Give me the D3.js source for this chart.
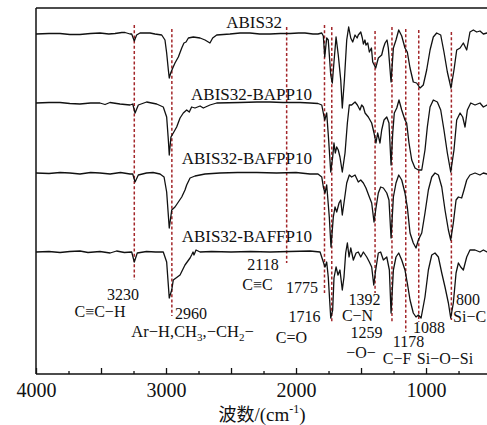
<!DOCTYPE html>
<html><head><meta charset="utf-8">
<script src="https://cdn.jsdelivr.net/npm/d3@7"></script>
<style>
body{margin:0;background:#fff;}
svg{display:block;}
text{font-family:"Liberation Serif","Times New Roman","Noto Sans CJK SC",serif;fill:#111;}
</style></head>
<body>
<script>
// ---- data (wavenumber cm^-1, relative transmittance a.u.) ----
const seriesNames = ["ABIS32","ABIS32-BAPP10","ABIS32-BAFPP10","ABIS32-BAFFP10"];
const seriesOffsets = [340, 271, 201, 122];

const abis32 = [[4000,0],[3900,0.5],[3815,0.5],[3740,-0.5],[3662,-0.5],[3580,0.5],[3508,1],[3440,0],[3392,0.5],[3340,1.5],[3315,1.5],[3277,0],[3264,0],[3244,-7],[3226,-1],[3200,1],[3150,1],[3123,1],[3085,0],[3033,-1],[3008,-6],[2995,-19],[2982,-36],[2975,-44],[2964,-39],[2948,-34],[2931,-29],[2905,-23],[2879,-14],[2862,-9],[2846,-8],[2828,-4],[2790,-3],[2738,-4],[2700,-6],[2662,-9],[2641,-4],[2610,-1],[2508,0],[2430,1],[2354,1],[2280,0],[2200,0],[2120,0.5],[2046,0.5],[1980,1],[1931,1],[1870,0],[1831,0],
[1802,1],[1790,-2],[1779,-23],[1764,-4],[1752,-6],[1733,-41],[1721,-49],[1708,-28],[1692,-3],[1675,-21],[1656,-46],[1644,-74],[1628,-46],[1610,-6],[1595,7],[1579,-4],[1564,-8],[1546,-1],[1530,-4],[1521,-1],[1502,2],[1490,-4],[1482,-10],[1470,-6],[1462,-11],[1448,-9],[1436,-18],[1420,-14],[1410,-28],[1387,-34],[1367,-24],[1341,-21],[1328,-14],[1315,-9],[1300,-6],[1290,-14],[1269,-48],[1251,-14],[1231,-6],[1210,4],[1187,-2],[1162,-14],[1144,-18],[1123,-34],[1098,-48],[1072,-49],[1046,-54],[1021,-51],[995,-36],[969,-16],[944,-3],[918,1],[887,-1],[862,-18],[836,-38],[808,-54],[785,-36],[764,-16],[738,-14],[713,-9],[687,-16],[662,2],[636,4],[610,2],[585,3],[559,0],[531,1],[500,1]];

const abis32Bapp10 = [[4000,0],[3900,0.5],[3815,0.5],[3740,-0.5],[3662,-1],[3580,0],[3508,0],[3469,-1.5],[3431,0.5],[3354,-1],[3277,-2],[3256,-1],[3238,-10],[3213,-2],[3149,1],[3072,-1],[3021,-4],[2995,-14],[2982,-37],[2975,-52],[2962,-34],[2944,-30],[2918,-24],[2892,-15],[2867,-10],[2841,-7],[2821,-9],[2803,-4],[2777,-5],[2738,-3],[2713,-5],[2662,-2],[2610,0],[2431,0.5],[2300,1],[2200,1],[2100,0.5],[1969,0.5],[1892,0],[1831,-0.5],
[1802,-2],[1790,-10],[1779,-17],[1764,-10],[1749,-37],[1733,-69],[1718,-54],[1708,-40],[1698,-50],[1687,-44],[1675,-47],[1662,-54],[1644,-69],[1623,-50],[1605,-20],[1590,-2],[1572,-2],[1546,1],[1528,-2],[1508,-7],[1495,-2],[1482,-4],[1469,-10],[1444,-14],[1418,-20],[1400,-30],[1385,-40],[1372,-30],[1354,-40],[1341,-27],[1323,-17],[1302,-14],[1285,-20],[1269,-62],[1256,-30],[1244,-10],[1225,-5],[1208,3],[1187,-7],[1162,-17],[1149,-20],[1131,-40],[1110,-57],[1085,-65],[1059,-67],[1033,-67],[1008,-47],[990,-24],[969,-4],[944,3],[913,1],[887,-7],[862,-27],[836,-50],[810,-69],[785,-47],[764,-17],[738,-10],[718,-14],[700,-24],[682,-7],[656,0],[623,-2],[585,0],[559,-4],[531,-2],[500,-2]];

const abis32Bafpp10 = [[4000,0],[3900,-0.5],[3815,0.5],[3740,0],[3662,-1],[3580,0.5],[3508,0],[3430,-1],[3350,0.5],[3277,-1],[3256,-1],[3238,-9],[3213,-2],[3150,0],[3100,0.5],[3046,-1],[3015,-4],[2995,-19],[2975,-55],[2956,-37],[2931,-34],[2905,-29],[2879,-24],[2854,-17],[2841,-12],[2815,-5],[2777,-3],[2700,-1],[2585,0],[2450,0.5],[2300,0.5],[2150,0],[2000,0.5],[1892,-1],[1831,-1],
[1802,-4],[1790,-14],[1777,-20],[1764,-12],[1744,-44],[1731,-74],[1713,-44],[1700,-34],[1687,-39],[1669,-30],[1656,-27],[1644,-42],[1628,-27],[1610,-10],[1590,-2],[1572,-4],[1546,-2],[1521,-9],[1502,-7],[1482,-10],[1462,-15],[1436,-24],[1418,-30],[1400,-49],[1385,-35],[1367,-20],[1349,-14],[1328,-15],[1302,-20],[1285,-27],[1269,-65],[1251,-24],[1231,-10],[1210,-2],[1187,-7],[1162,-20],[1144,-34],[1123,-60],[1098,-70],[1077,-75],[1059,-67],[1033,-60],[1008,-40],[982,-17],[956,-4],[931,0],[905,-2],[879,-14],[854,-37],[828,-57],[810,-67],[790,-50],[769,-27],[751,-24],[726,-25],[708,-17],[687,-7],[662,-2],[623,0],[585,-2],[559,0],[531,-1],[500,-1]];

const abis32Baffp10 = [[4000,0],[3900,0.5],[3815,-0.5],[3740,0.5],[3662,1],[3600,-0.5],[3508,0.5],[3430,-1],[3380,1],[3320,-0.5],[3264,0],[3244,-10],[3221,-1],[3150,0.5],[3080,0],[3021,0],[2995,-10],[2975,-46],[2956,-38],[2944,-28],[2892,-23],[2854,-13],[2815,-6],[2803,-3],[2792,0],[2785,-3],[2769,2],[2738,0],[2650,0.5],[2500,0],[2350,0.5],[2200,0],[2050,0.5],[1892,1],[1815,0],
[1795,-8],[1777,-15],[1764,-10],[1752,-25],[1733,-66],[1718,-58],[1708,-26],[1692,-15],[1677,-23],[1662,-18],[1644,-38],[1631,-25],[1618,-1],[1605,9],[1592,-5],[1579,4],[1559,-8],[1538,-1],[1521,0],[1502,-5],[1482,0],[1456,-5],[1436,-10],[1418,-15],[1402,-33],[1387,-18],[1367,-1],[1349,0],[1328,-8],[1302,-5],[1282,-18],[1269,-61],[1251,-18],[1231,-5],[1210,-1],[1187,-8],[1162,-18],[1144,-31],[1123,-48],[1098,-61],[1077,-65],[1059,-63],[1038,-66],[1008,-45],[982,-18],[956,-3],[931,-1],[905,-5],[879,-21],[854,-35],[828,-51],[810,-66],[790,-51],[769,-21],[751,-11],[733,-15],[713,-18],[687,-5],[662,2],[623,2],[585,0],[559,2],[531,0],[500,0]];

const seriesValues = [abis32, abis32Bapp10, abis32Bafpp10, abis32Baffp10];

// marker lines: wavenumber (as drawn), top and bottom level (a.u.)
const markerWavenumbers = [3244, 2955, 2072, 1781, 1725, 1392, 1262, 1156, 1056, 805];
const markerTop    = [349, 345, 347, 349, 347, 343, 347, 345, 344, 342];
const markerBottom = [94, 58, 111, 81, 51, 81, 52, 42, 52, 54];

// annotation texts: [text, wavenumber, level]
const annotations = [
  ["3230", 3331, 74], ["C≡C−H", 3508, 57],
  ["2960", 2808, 55],
  ["2118", 2254, 104], ["C≡C", 2296, 84],
  ["1775", 1954, 81], ["1716", 1935, 52], ["C=O", 2035, 31],
  ["1392", 1473, 69], ["C−N", 1527, 53],
  ["1259", 1458, 36], ["−O−", 1500, 16],
  ["1178", 1135, 27], ["C−F", 1223, 10],
  ["1088", 977, 41], ["Si−O−Si", 854, 10],
  ["800", 677, 69]
];
const tickValues = d3.range(4000, 500, -250);
const tickLabels = [4000, 3000, 2000, 1000];

// ---- chart ----
const W = 487, H = 425;
const svg = d3.select("body").append("svg").attr("width", W).attr("height", H);
const x = d3.scaleLinear().domain([4000, 531]).range([36, 487]);
const y = d3.scaleLinear().domain([0, 366]).range([374, 8]);

svg.append("defs").append("clipPath").attr("id","clip")
  .append("rect").attr("x",36).attr("y",8).attr("width",451).attr("height",366);

// dashed markers
svg.append("g").selectAll("line").data(markerWavenumbers).join("line")
  .attr("x1", d => x(d)).attr("x2", d => x(d))
  .attr("y1", (d,i) => y(markerTop[i])).attr("y2", (d,i) => y(markerBottom[i]))
  .attr("stroke", "#a3262a").attr("stroke-width", 1.5).attr("stroke-dasharray", "3,2.2");

// spectra
const line = d3.line().x(d => x(d[0])).y(d => d[1]).curve(d3.curveLinear);
svg.append("g").attr("clip-path","url(#clip)").selectAll("path").data(seriesValues).join("path")
  .attr("d", (s,i) => line(s.map(p => [p[0], y(seriesOffsets[i] + p[1])])))
  .attr("fill","none").attr("stroke","#111").attr("stroke-width",1.3).attr("stroke-linejoin","round");

// frame
svg.append("line").attr("x1",x(4000)).attr("x2",W).attr("y1",y(366)).attr("y2",y(366)).attr("stroke","#111").attr("stroke-width",1.5);
svg.append("line").attr("x1",x(4000)).attr("x2",x(4000)).attr("y1",y(366)).attr("y2",y(0)).attr("stroke","#111").attr("stroke-width",1.5);

// x axis
const ax = svg.append("g").attr("transform",`translate(0,${y(0)})`)
  .call(d3.axisBottom(x).tickValues(tickValues).tickSize(-3).tickPadding(9)
     .tickFormat(d => tickLabels.includes(d) ? d : ""));
ax.select(".domain").attr("d", `M${x(4000)},0H${W}`).attr("stroke","#111").attr("stroke-width",1.5);
ax.selectAll(".tick line").attr("stroke","#111").attr("stroke-width",1.3)
  .attr("y2", d => d % 500 === 0 ? -6 : -3);
ax.selectAll(".tick text").attr("font-size",20).attr("fill","#111")
  .style("font-family",'"Liberation Serif","Times New Roman",serif');

// axis title
const tt = svg.append("text").attr("x", 262).attr("y", 421).attr("text-anchor","middle").attr("font-size",19);
tt.append("tspan").text("波数").style("font-family",'"Noto Sans CJK SC",sans-serif').attr("font-size",18);
tt.append("tspan").text("/(cm");
tt.append("tspan").text("-1").attr("font-size",12).attr("dy",-8);
tt.append("tspan").text(")").attr("dy",8);

// series labels
const labelPos = [[2108, 346], [1877, 274], [1877, 210], [1877, 132]];
svg.append("g").selectAll("text").data(seriesNames).join("text")
  .attr("x",(d,i)=>x(labelPos[i][0])).attr("y",(d,i)=>y(labelPos[i][1]))
  .attr("text-anchor","end").attr("font-size",17).text(d=>d);

// annotations
svg.append("g").selectAll("text").data(annotations).join("text")
  .attr("x", d => x(d[1])).attr("y", d => y(d[2]))
  .attr("text-anchor","middle").attr("font-size",16).text(d => d[0]);

// Si−C at the edge
svg.append("text").attr("x", x(792)).attr("y", y(52)).attr("font-size",16).text("Si−C");

// Ar−H,CH3,−CH2−
const ar = svg.append("text").attr("x", x(2796)).attr("y", y(37)).attr("text-anchor","middle").attr("font-size",16.5);
ar.append("tspan").text("Ar−H,CH");
ar.append("tspan").text("3").attr("font-size",11).attr("dy",4);
ar.append("tspan").text(",−CH").attr("dy",-4);
ar.append("tspan").text("2").attr("font-size",11).attr("dy",4);
ar.append("tspan").text("−").attr("dy",-4);
</script>
</body></html>
